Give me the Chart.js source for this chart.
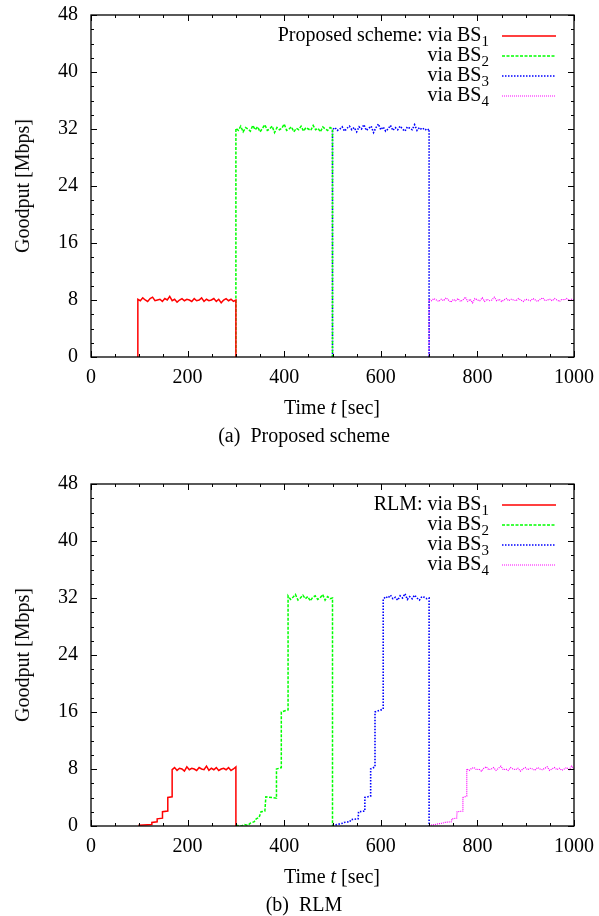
<!DOCTYPE html>
<html>
<head>
<meta charset="utf-8">
<script src="https://cdn.jsdelivr.net/npm/chart.js@4.4.0/dist/chart.umd.min.js"></script>
<style>
  body { margin: 0; background: #fff; width: 599px; height: 916px; position: relative; overflow: hidden;
         font-family: "Liberation Serif", "Times New Roman", serif; color: #000; }
  .panel { position: absolute; left: 0; width: 599px; height: 440px; }
  .panel canvas { position: absolute; left: 0; top: 0; }
  .txt { position: absolute; font-size: 20px; line-height: 20px; white-space: nowrap; }
  .ytitle { left: 22px; top: 186px; transform: translate(-50%, -50%) rotate(-90deg); }
  .xtitle { left: 332px; top: 397px; transform: translateX(-50%); }
  .caption { left: 304px; top: 425px; transform: translateX(-50%); }
  .key { right: 110px; text-align: right; }
  .key sub { font-size: 15px; vertical-align: -5px; line-height: 0; }
  .samples { position: absolute; left: 0; top: 0; }
</style>
</head>
<body>
<div class="panel" id="panelA" style="top:0">
  <canvas id="chartA" width="599" height="440"></canvas>
</div>
<div class="panel" id="panelB" style="top:469px">
  <canvas id="chartB" width="599" height="440"></canvas>
</div>
<script>
// axes
const xTicks = [0, 200, 400, 600, 800, 1000];
const yTicks = [0, 8, 16, 24, 32, 40, 48];
const xMinorStep = 50;
const yMinorStep = 2;

const bsNames = ['1', '2', '3', '4'];
const bsColors = ['#ff0000', '#00ff00', '#0000ff', '#ff00ff'];

// (a) Proposed scheme: goodput via each BS
const propRampT1 = [97];
const propRampY1 = [0];
const propSpan1 = [97, 300];
const propY1 = [
  8.1, 7.9, 8.3, 8.0, 7.8, 8.2, 8.4, 7.9, 8.0, 8.1,
  7.8, 8.2, 8.0, 8.5, 7.9, 8.1, 7.7, 8.0, 8.2, 7.9,
  8.1, 8.0, 7.8, 8.2, 7.9, 8.0, 8.3, 7.8, 8.1, 7.9,
  8.0, 8.2, 7.8, 8.1, 7.6, 8.0, 8.2, 7.9, 8.1, 7.8,
  8.0
];
const propRampT2 = [300];
const propRampY2 = [0];
const propSpan2 = [300, 500];
const propY2 = [
  32.1, 31.8, 32.4, 31.6, 32.2, 32.0, 31.7, 32.5, 31.9, 32.3,
  31.6, 32.1, 32.6, 31.8, 32.0, 32.4, 31.5, 32.2, 31.9, 32.1,
  32.7, 31.8, 32.0, 32.3, 31.6, 32.1, 31.9, 32.4, 31.7, 32.2,
  32.0, 31.8, 32.5, 31.9, 32.1, 31.6, 32.3, 32.0, 31.8, 32.2,
  32.0
];
const propRampT3 = [500];
const propRampY3 = [0];
const propSpan3 = [500, 700];
const propY3 = [
  31.9, 32.2, 31.8, 32.0, 32.3, 31.7, 32.1, 32.4, 31.9, 32.2,
  31.6, 32.3, 32.0, 32.6, 31.8, 32.1, 32.4, 31.5, 32.2, 32.7,
  31.9, 32.3, 31.7, 32.0, 32.5, 31.8, 32.2, 31.9, 32.4, 32.0,
  31.7, 32.3, 32.1, 31.9, 32.6, 31.8, 32.2, 31.9, 32.1, 31.8,
  32.0
];
const propRampT4 = [700];
const propRampY4 = [0];
const propSpan4 = [700, 1000];
const propY4 = [
  8.1, 7.9, 8.2, 8.0, 7.8, 8.1, 7.9, 8.3, 8.0, 7.7,
  8.1, 7.9, 8.2, 7.8, 8.0, 8.4, 7.8, 8.1, 7.6, 8.2,
  8.0, 7.9, 8.3, 7.8, 8.1, 7.9, 8.0, 8.4, 7.9, 8.1,
  7.8, 8.0, 8.2, 7.9, 8.1, 8.0, 7.9, 8.2, 8.0, 7.8,
  8.1, 8.0, 7.9, 8.2, 8.0, 7.8, 8.1, 8.3, 7.9, 8.0,
  8.1, 7.9, 8.2, 8.0, 7.8, 8.1, 8.0, 8.2, 7.9, 8.1,
  8.0
];

// (b) RLM: goodput via each BS
const rlmRampT1 = [98, 126, 126, 137, 137, 148, 148, 159, 159, 168];
const rlmRampY1 = [0.1, 0.2, 0.5, 0.6, 1.0, 1.1, 2.0, 2.1, 4.0, 4.1];
const rlmSpan1 = [168, 300];
const rlmY1 = [
  7.9, 8.2, 7.8, 8.1, 8.0, 7.7, 8.3, 7.9, 8.1, 8.0,
  7.8, 8.2, 8.0, 7.9, 8.4, 7.8, 8.1, 7.9, 8.2, 7.8,
  8.0, 8.1, 7.9, 8.2, 7.8, 8.0, 8.3
];
const rlmRampT2 = [300, 312, 318, 325, 330, 338, 342, 348, 352, 360, 362, 384, 384, 394, 394, 408];
const rlmRampY2 = [0.1, 0.0, 0.2, 0.1, 0.4, 0.6, 1.0, 1.2, 2.0, 2.1, 4.1, 3.9, 8.0, 8.2, 16.0, 16.3];
const rlmSpan2 = [408, 500];
const rlmY2 = [
  32.3, 31.8, 32.1, 32.5, 31.7, 32.0, 32.4, 31.9, 32.2, 31.6,
  32.1, 32.3, 31.8, 32.0, 32.5, 31.7, 32.2, 31.9, 32.0
];
const rlmRampT3 = [500, 510, 515, 522, 524, 536, 538, 553, 554, 567, 567, 579, 579, 588, 588, 605];
const rlmRampY3 = [0.1, 0.2, 0.3, 0.4, 0.5, 0.6, 0.9, 1.0, 2.0, 2.1, 4.0, 4.2, 8.0, 8.3, 16.0, 16.4];
const rlmSpan3 = [605, 700];
const rlmY3 = [
  31.8, 32.2, 32.0, 32.4, 31.9, 32.1, 31.7, 32.3, 32.0, 32.6,
  31.8, 32.2, 31.9, 32.4, 32.0, 31.7, 32.2, 32.1, 31.9, 32.0
];
const rlmRampT4 = [700, 712, 718, 728, 732, 746, 747, 757, 758, 770, 770, 778];
const rlmRampY4 = [0.1, 0.2, 0.3, 0.4, 0.5, 0.6, 1.0, 1.1, 2.0, 2.1, 4.0, 4.2];
const rlmSpan4 = [778, 1000];
const rlmY4 = [
  8.0, 7.8, 8.1, 8.2, 7.9, 8.0, 7.7, 8.1, 8.3, 7.9,
  8.0, 8.2, 7.8, 8.1, 8.4, 7.9, 8.0, 7.8, 8.2, 8.0,
  7.9, 8.1, 7.7, 8.0, 8.2, 7.9, 8.1, 8.0, 7.8, 8.2,
  8.0, 7.9, 8.1, 8.3, 7.8, 8.0, 8.2, 7.9, 8.1, 7.8,
  8.0, 8.2, 7.9, 8.4, 8.0
];

const FONT = '"Liberation Serif", "Times New Roman", serif';
const X_MAX = xTicks[xTicks.length - 1];

// ramp points, then the plateau samples spread over their time span, then the drop to zero
function buildPoints(rampT, rampY, span, values) {
  const pts = rampT.map((t, i) => ({ x: t, y: rampY[i] }));
  const n = values.length;
  values.forEach((v, i) => {
    pts.push({ x: span[0] + (span[1] - span[0]) * i / (n - 1), y: v });
  });
  if (span[1] < X_MAX) pts.push({ x: span[1], y: 0 });
  return pts;
}

const lineStyles = [
  { width: 1.5, dash: [] },
  { width: 1.5, dash: [3, 1.5] },
  { width: 1.6, dash: [1.5, 1.5] },
  { width: 1.2, dash: [1, 1] }
];

function makeDatasets(series) {
  return series.map((pts, i) => ({
    label: 'via BS' + bsNames[i],
    data: pts,
    borderColor: bsColors[i],
    borderWidth: lineStyles[i].width,
    borderDash: lineStyles[i].dash,
    pointRadius: 0,
    fill: false,
    tension: 0,
    showLine: true
  }));
}

// gnuplot-like frame with inward major/minor ticks on all four sides
const framePlugin = {
  id: 'frame',
  afterDatasetsDraw(chart) {
    const { ctx, chartArea: a, scales } = chart;
    const x = scales.x, y = scales.y;
    ctx.save();
    ctx.strokeStyle = '#000';
    ctx.lineWidth = 1;
    ctx.beginPath();
    for (let v = 0; v <= X_MAX; v += xMinorStep) {
      const px = Math.round(x.getPixelForValue(v)) + 0.5;
      const len = xTicks.includes(v) ? 6 : 3;
      ctx.moveTo(px, a.bottom); ctx.lineTo(px, a.bottom - len);
      ctx.moveTo(px, a.top); ctx.lineTo(px, a.top + len);
    }
    const yMax = yTicks[yTicks.length - 1];
    for (let v = 0; v <= yMax; v += yMinorStep) {
      const py = Math.round(y.getPixelForValue(v)) + 0.5;
      const len = yTicks.includes(v) ? 6 : 3;
      ctx.moveTo(a.left, py); ctx.lineTo(a.left + len, py);
      ctx.moveTo(a.right, py); ctx.lineTo(a.right - len, py);
    }
    ctx.stroke();
    ctx.lineWidth = 1.3;
    ctx.strokeRect(a.left, a.top, a.right - a.left, a.bottom - a.top);
    ctx.restore();
  }
};

function makeChart(canvasId, series) {
  return new Chart(document.getElementById(canvasId), {
    type: 'scatter',
    data: { datasets: makeDatasets(series) },
    options: {
      responsive: false,
      animation: false,
      layout: { padding: { left: 0, right: 25, top: 15, bottom: 0 } },
      plugins: { legend: { display: false }, tooltip: { enabled: false } },
      scales: {
        x: {
          type: 'linear', min: 0, max: X_MAX,
          afterBuildTicks: s => { s.ticks = xTicks.map(v => ({ value: v })); },
          afterFit: s => { s.height = 83; s.paddingLeft = 0; s.paddingRight = 0; },
          grid: { display: false, drawTicks: false },
          border: { display: false },
          ticks: { color: '#000', font: { family: FONT, size: 20 }, padding: 9, maxRotation: 0, autoSkip: false,
                   callback: v => String(v) }
        },
        y: {
          type: 'linear', min: 0, max: yTicks[yTicks.length - 1],
          afterBuildTicks: s => { s.ticks = yTicks.map(v => ({ value: v })); },
          afterFit: s => { s.width = 91; s.paddingTop = 0; s.paddingBottom = 0; },
          grid: { display: false, drawTicks: false },
          border: { display: false },
          ticks: { color: '#000', font: { family: FONT, size: 20 }, padding: 13, autoSkip: false,
                   callback: v => String(v) }
        }
      }
    },
    plugins: [framePlugin]
  });
}

function addOverlay(panelId, keyTitle, caption) {
  const panel = document.getElementById(panelId);
  const add = (cls, html, style) => {
    const d = document.createElement('div');
    d.className = 'txt ' + cls;
    d.innerHTML = html;
    if (style) d.style.cssText = style;
    panel.appendChild(d);
  };
  add('ytitle', 'Goodput [Mbps]');
  add('xtitle', 'Time <i>t</i> [sec]');
  add('caption', caption);
  bsNames.forEach((n, i) => {
    const label = (i === 0 ? keyTitle + ' ' : '') + 'via BS<sub>' + n + '</sub>';
    add('key', label, 'top:' + (24 + 20 * i) + 'px');
  });
  const svgNS = 'http://www.w3.org/2000/svg';
  const svg = document.createElementNS(svgNS, 'svg');
  svg.setAttribute('class', 'samples');
  svg.setAttribute('width', '599');
  svg.setAttribute('height', '120');
  bsColors.forEach((c, i) => {
    const l = document.createElementNS(svgNS, 'line');
    const yy = 36 + 20 * i;
    l.setAttribute('x1', 502); l.setAttribute('x2', 556);
    l.setAttribute('y1', yy); l.setAttribute('y2', yy);
    l.setAttribute('stroke', c);
    l.setAttribute('stroke-width', lineStyles[i].width);
    if (lineStyles[i].dash.length) l.setAttribute('stroke-dasharray', lineStyles[i].dash.join(','));
    svg.appendChild(l);
  });
  panel.appendChild(svg);
}

makeChart('chartA', [
  buildPoints(propRampT1, propRampY1, propSpan1, propY1),
  buildPoints(propRampT2, propRampY2, propSpan2, propY2),
  buildPoints(propRampT3, propRampY3, propSpan3, propY3),
  buildPoints(propRampT4, propRampY4, propSpan4, propY4)
]);
makeChart('chartB', [
  buildPoints(rlmRampT1, rlmRampY1, rlmSpan1, rlmY1),
  buildPoints(rlmRampT2, rlmRampY2, rlmSpan2, rlmY2),
  buildPoints(rlmRampT3, rlmRampY3, rlmSpan3, rlmY3),
  buildPoints(rlmRampT4, rlmRampY4, rlmSpan4, rlmY4)
]);
addOverlay('panelA', 'Proposed scheme:', '(a)&nbsp; Proposed scheme');
addOverlay('panelB', 'RLM:', '(b)&nbsp; RLM');
</script>
</body>
</html>
